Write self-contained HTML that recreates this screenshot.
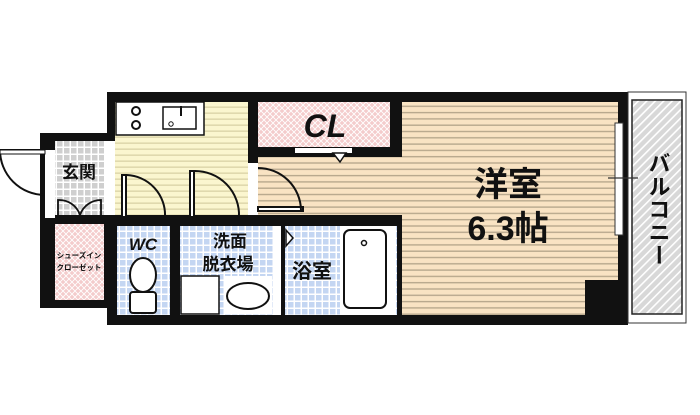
<!DOCTYPE html>
<html><head><meta charset="utf-8"><style>
html,body{margin:0;padding:0;background:#fff;width:700px;height:415px;overflow:hidden}
svg{display:block}
text{font-family:"Liberation Sans","Noto Sans CJK JP",sans-serif;font-weight:bold;fill:#111}
</style></head><body>
<svg width="700" height="415" viewBox="0 0 700 415" xmlns="http://www.w3.org/2000/svg">
<defs>
<pattern id="yel" width="8" height="6" patternUnits="userSpaceOnUse"><rect width="8" height="6" fill="#fbf6cf"/><rect y="4.5" width="8" height="1.3" fill="#d9d2a6"/></pattern>
<pattern id="bei" width="8" height="6.3" patternUnits="userSpaceOnUse"><rect width="8" height="6.3" fill="#f9e3c3"/><rect y="4.8" width="8" height="1.4" fill="#b8a88d"/></pattern>
<pattern id="blu" width="7" height="7" patternUnits="userSpaceOnUse"><rect width="7" height="7" fill="#fff"/><rect x="1" y="1" width="5.5" height="5.5" fill="#c4d6f2"/></pattern>
<pattern id="gry" width="7" height="7" patternUnits="userSpaceOnUse"><rect width="7" height="7" fill="#fff"/><rect x="1" y="1" width="5.5" height="5.5" fill="#cfcfcf"/></pattern>
<pattern id="pnk" width="6" height="6" patternUnits="userSpaceOnUse"><rect width="6" height="6" fill="#f4cccc"/><path d="M0 0L6 6M6 0L0 6" stroke="#fff" stroke-width="0.9"/></pattern>
<pattern id="bal" width="6" height="6" patternUnits="userSpaceOnUse" patternTransform="rotate(45)"><rect width="6" height="6" fill="#d8d8d8"/><rect width="1.6" height="6" fill="#fff"/></pattern>
</defs>
<rect x="107" y="92" width="521" height="233" fill="#111"/>
<rect x="40" y="133" width="72" height="175" fill="#111"/>
<rect x="628" y="92" width="58" height="231" fill="#fff" stroke="#333" stroke-width="1"/>
<rect x="632" y="100" width="50" height="214" fill="url(#bal)" stroke="#222" stroke-width="1.5"/>
<rect x="115" y="102" width="133" height="113" fill="url(#yel)"/>
<rect x="116" y="102" width="88" height="33" fill="#fff" stroke="#111" stroke-width="1.5"/>
<rect x="163" y="107" width="33" height="22" fill="#fff" stroke="#111" stroke-width="1.5"/>
<circle cx="171" cy="124" r="2.2" fill="none" stroke="#111"/>
<line x1="181" y1="106" x2="181" y2="116" stroke="#111" stroke-width="2"/>
<circle cx="136" cy="111" r="4" fill="none" stroke="#111" stroke-width="2"/>
<circle cx="136" cy="125" r="4" fill="none" stroke="#111" stroke-width="2"/>
<rect x="258" y="102" width="132" height="45" fill="url(#pnk)"/>
<text x="325" y="137" font-size="32" text-anchor="middle" font-style="italic">CL</text>
<rect x="402" y="102" width="216" height="213" fill="url(#bei)"/>
<rect x="258" y="157" width="150" height="58" fill="url(#bei)"/>
<rect x="248" y="163" width="10" height="52" fill="#fff"/>
<rect x="295" y="148" width="57" height="5" fill="#fff"/>
<path d="M333 153L346 153L340 162Z" fill="#fff" stroke="#111" stroke-width="1.5"/>
<rect x="585" y="280" width="33" height="35" fill="#111"/>
<rect x="615" y="123" width="8" height="112" fill="#fff" stroke="#333" stroke-width="1"/>
<line x1="608" y1="178" x2="638" y2="178" stroke="#333" stroke-width="1.2"/>
<text x="508" y="196" font-size="34" text-anchor="middle">洋室</text>
<text x="508" y="240" font-size="34" text-anchor="middle">6.3帖</text>
<text font-size="22" x="658" y="152" text-anchor="start" writing-mode="tb" letter-spacing="1">バルコニー</text>
<rect x="55" y="141" width="49" height="74" fill="url(#gry)"/>
<rect x="45" y="150" width="10" height="68" fill="#fff"/>
<rect x="104" y="141" width="11" height="74" fill="#fff"/>
<text x="79" y="178" font-size="17" text-anchor="middle">玄関</text>
<path d="M45 150 L0 150 M0 150 A45 45 0 0 0 45 195" fill="none" stroke="#111" stroke-width="2"/>
<rect x="0" y="150" width="45" height="4" fill="#fff" stroke="#111" stroke-width="1"/>
<path d="M58 215 L58 200 A22 22 0 0 1 80 215 M101 215 L101 200 A22 22 0 0 0 80 215" fill="none" stroke="#111" stroke-width="1.8"/>
<rect x="55" y="224" width="49" height="76" fill="url(#pnk)"/>
<text x="79" y="258" font-size="7.5" text-anchor="middle">シューズイン</text>
<text x="79" y="270" font-size="7.5" text-anchor="middle">クローゼット</text>
<g fill="none" stroke="#111" stroke-width="2">
<rect x="122" y="175" width="4" height="42" fill="#fff"/>
<path d="M126 175 A40 40 0 0 1 165 217"/>
<rect x="190" y="171" width="4" height="46" fill="#fff"/>
<path d="M194 171 A44 44 0 0 1 239 217"/>
<rect x="258" y="207" width="45" height="4" fill="#fff"/>
<path d="M258 168 A43 43 0 0 1 301 210"/>
</g>
<rect x="117" y="226" width="53" height="89" fill="url(#blu)"/>
<text x="143" y="250" font-size="17" text-anchor="middle" font-style="italic">WC</text>
<ellipse cx="143" cy="275" rx="13" ry="17" fill="#fff" stroke="#111" stroke-width="2"/>
<rect x="130" y="292" width="26" height="21" rx="3" fill="#fff" stroke="#111" stroke-width="2"/>
<rect x="180" y="226" width="93" height="89" fill="url(#blu)"/>
<text x="230" y="247" font-size="17" text-anchor="middle">洗面</text>
<text x="228" y="270" font-size="17" text-anchor="middle">脱衣場</text>
<rect x="181" y="276" width="38" height="38" fill="#fff" stroke="#111" stroke-width="1.5"/>
<rect x="224" y="276" width="48" height="38" fill="#fff"/>
<ellipse cx="248" cy="296" rx="21" ry="13" fill="#fff" stroke="#111" stroke-width="2"/>
<rect x="273" y="226" width="8" height="89" fill="#fff"/>
<rect x="284" y="226" width="113" height="89" fill="url(#blu)"/>
<rect x="281" y="226" width="4" height="89" fill="#111"/>
<path d="M286 230L293 238L286 246Z" fill="#fff" stroke="#111" stroke-width="1.5"/>
<text x="312" y="278" font-size="20" text-anchor="middle">浴室</text>
<rect x="340" y="226" width="56" height="89" fill="#fff"/>
<rect x="344" y="230" width="42" height="78" rx="6" fill="#fff" stroke="#111" stroke-width="2"/>
<circle cx="364" cy="243" r="2.5" fill="none" stroke="#111" stroke-width="1.5"/>
</svg>
</body></html>
